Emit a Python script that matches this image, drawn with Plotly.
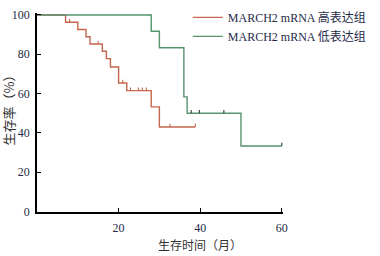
import plotly.graph_objects as go

# ---- data ----
high_label = "MARCH2 mRNA 高表达组"
low_label = "MARCH2 mRNA 低表达组"

high_times = [0, 7, 10, 12, 13, 16, 17, 18, 20, 22, 28, 30, 38.8]
high_surv = [100, 96.3, 92.6, 88.9, 85.2, 81.5, 77.8, 73.5, 65.4, 61.5, 53.2, 43.0, 43.0]
high_censor = [8, 15, 21, 22.9, 24.9, 25.8, 26.8, 32.6, 38.8]

low_times = [0, 28, 30, 36, 36.8, 50, 60]
low_surv = [100, 91.7, 83.3, 58.3, 50.0, 33.3, 33.3]
low_censor = [37.8, 39.8, 45.8, 60]

x_ticks = [20, 40, 60]
y_ticks = [0, 20, 40, 60, 80, 100]

RED = "#c6664d"
GREEN = "#56936f"
TICK_H = 1.6  # height of censor marks, in survival %


def surv_at(times, surv, t):
    s = surv[0]
    for ti, si in zip(times, surv):
        if ti <= t:
            s = si
    return s


def censor_xy(times, surv, cens):
    xs, ys = [], []
    for c in cens:
        s = surv_at(times, surv, c)
        xs += [c, c, None]
        ys += [s, s + TICK_H, None]
    return xs, ys


fig = go.Figure()
fig.add_trace(go.Scatter(x=high_times, y=high_surv, mode="lines", line_shape="hv",
                         line=dict(color=RED, width=1.4), name=high_label))
fig.add_trace(go.Scatter(x=low_times, y=low_surv, mode="lines", line_shape="hv",
                         line=dict(color=GREEN, width=1.4), name=low_label))
cx, cy = censor_xy(high_times, high_surv, high_censor)
fig.add_trace(go.Scatter(x=cx, y=cy, mode="lines", line=dict(color=RED, width=1.1),
                         showlegend=False, hoverinfo="skip"))
cx, cy = censor_xy(low_times, low_surv, low_censor)
fig.add_trace(go.Scatter(x=cx, y=cy, mode="lines", line=dict(color="#2c3d33", width=1.1),
                         showlegend=False, hoverinfo="skip"))

tickfont = dict(family="Liberation Serif", size=12, color="#1e2a48")

fig.update_layout(
    width=380, height=256,
    margin=dict(l=37, r=97, t=13, b=44, autoexpand=False),
    paper_bgcolor="white", plot_bgcolor="white",
    showlegend=True,
    legend=dict(x=0.613, y=1.051, xanchor="left", yanchor="top",
                font=dict(family="Liberation Serif, Noto Sans CJK SC", size=12, color="#1e2a48"),
                bgcolor="rgba(0,0,0,0)", itemwidth=30, tracegroupgap=0),
    xaxis=dict(range=[0, 60.3], tickvals=x_ticks, ticks="inside", ticklen=4, tickwidth=1.2,
               tickcolor="black", showline=True, linecolor="black", linewidth=1.5,
               showgrid=False, zeroline=False, tickfont=tickfont, ticklabelstandoff=4,
               automargin=False),
    yaxis=dict(range=[-0.3, 101], tickvals=y_ticks, ticks="inside", ticklen=4, tickwidth=1.2,
               tickcolor="black", showline=True, linecolor="black", linewidth=1.5,
               showgrid=False, zeroline=False, tickfont=tickfont, ticklabelstandoff=3,
               automargin=False),
    annotations=[
        dict(text="生存率（%）", xref="paper", yref="paper", x=-0.114, y=0.53,
             xanchor="center", yanchor="middle", textangle=-90, showarrow=False,
             font=dict(family="Noto Sans CJK SC", size=13, color="#333")),
        dict(text="生存时间（月）", xref="paper", yref="paper", x=0.664, y=-0.161,
             xanchor="center", yanchor="middle", showarrow=False,
             font=dict(family="Noto Sans CJK SC", size=12, color="#333")),
    ],
)

fig.write_html("out.html", config={"displayModeBar": False},
               post_script="document.body.style.margin='0';")
